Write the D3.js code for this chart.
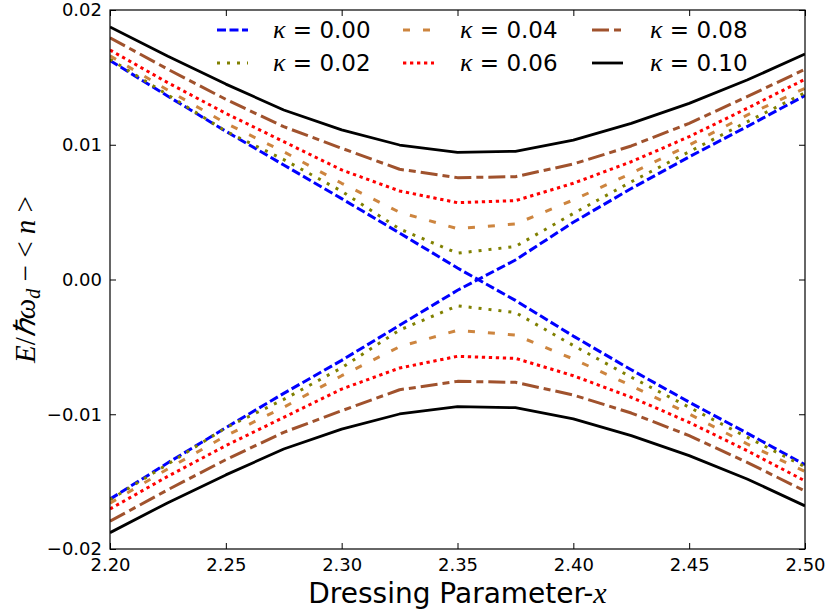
<!DOCTYPE html>
<html><head><meta charset="utf-8">
<script src="https://cdn.jsdelivr.net/npm/d3@7"></script>
<style>body{margin:0;background:#fff}</style>
</head><body>
<svg id="c" width="828" height="613"></svg>
<script>
// Data (values in units of 1e-3)
const xValues = [2.200,2.225,2.250,2.275,2.300,2.325,2.350,2.375,2.400,2.425,2.450,2.475,2.500];
const kappaLabels = ["0.00","0.02","0.04","0.06","0.08","0.10"];
const xTicks = [2.20,2.25,2.30,2.35,2.40,2.45,2.50];
const yTicks = [-0.02,-0.01,0.00,0.01,0.02];

const k000a = [16.25,13.60,11.00,8.50,6.00,3.45,0.85,-1.55,-4.20,-6.70,-9.10,-11.40,-13.75];
const k000b = [-16.30,-13.60,-11.00,-8.45,-6.00,-3.40,-0.80,1.45,4.25,6.75,9.10,11.35,13.65];
const k002u = [16.35,13.70,11.00,8.90,6.55,3.75,1.95,2.45,4.90,7.25,9.48,11.70,13.86];
const k002l = [-16.35,-13.70,-11.00,-8.90,-6.55,-3.75,-1.95,-2.45,-4.90,-7.25,-9.48,-11.70,-13.90];
const k004u = [16.60,14.05,11.60,9.48,7.14,4.99,3.77,4.12,5.90,7.88,9.98,12.20,14.19];
const k004l = [-16.60,-14.05,-11.60,-9.48,-7.14,-4.99,-3.77,-4.12,-5.90,-7.88,-9.98,-12.20,-14.25];
const k006u = [17.03,14.60,12.33,10.23,8.13,6.57,5.70,5.85,7.14,8.74,10.60,12.70,14.86];
const k006l = [-17.03,-14.60,-12.33,-10.23,-8.13,-6.57,-5.70,-5.85,-7.14,-8.74,-10.60,-12.70,-14.95];
const k008u = [17.94,15.60,13.37,11.34,9.74,8.18,7.56,7.63,8.57,9.91,11.59,13.57,15.60];
const k008l = [-17.94,-15.60,-13.37,-11.34,-9.74,-8.18,-7.56,-7.63,-8.57,-9.91,-11.59,-13.57,-15.70];
const k010u = [18.74,16.56,14.50,12.58,11.10,9.98,9.44,9.51,10.35,11.59,13.07,14.80,16.73];
const k010l = [-18.79,-16.56,-14.50,-12.58,-11.10,-9.98,-9.44,-9.51,-10.35,-11.59,-13.07,-14.80,-16.80];

const colors = ["#0000ff","#808000","#cd853f","#ff0000","#a0522d","#000000"];
const dashes = ["9,3.5","3,7","7,13","3.3,3.7","17,5,7,5",null];
const widths = [3,3,3,3,3,2.8];
const seriesByKappa = [[k000a,k000b],[k002u,k002l],[k004u,k004l],[k006u,k006l],[k008u,k008l],[k010u,k010l]];

const svg = d3.select("#c");
const L=110, R=805, T=10, B=549;
const x = d3.scaleLinear().domain([2.2,2.5]).range([L,R]);
const y = d3.scaleLinear().domain([-0.02,0.02]).range([B,T]);

svg.append("defs").append("clipPath").attr("id","clip")
  .append("rect").attr("x",L).attr("y",T).attr("width",R-L).attr("height",B-T);

const line = d3.line().x((d,i)=>x(xValues[i])).y(d=>y(d/1000));
const g = svg.append("g").attr("clip-path","url(#clip)");
seriesByKappa.forEach((pair,k)=>{
  pair.forEach(arr=>{
    g.append("path").attr("d",line(arr)).attr("fill","none")
      .attr("stroke",colors[k]).attr("stroke-width",widths[k])
      .attr("stroke-dasharray",dashes[k]).attr("stroke-linejoin","round");
  });
});

// axes
const font = "DejaVu Sans, sans-serif";
const ax = svg.append("g").attr("transform",`translate(0,${B})`)
  .call(d3.axisBottom(x).tickValues(xTicks).tickFormat(d3.format(".2f")).tickSize(-6).tickPadding(9));
const at = svg.append("g").attr("transform",`translate(0,${T})`)
  .call(d3.axisTop(x).tickValues(xTicks).tickFormat("").tickSize(-6));
const ay = svg.append("g").attr("transform",`translate(${L},0)`)
  .call(d3.axisLeft(y).tickValues(yTicks).tickFormat(d3.format(".2f")).tickSize(-6).tickPadding(8));
const ar = svg.append("g").attr("transform",`translate(${R},0)`)
  .call(d3.axisRight(y).tickValues(yTicks).tickFormat("").tickSize(-6));
[ax,at,ay,ar].forEach(a=>{
  a.select(".domain").remove();
  a.selectAll("line").attr("stroke","#000").attr("stroke-width",1);
  a.selectAll("text").attr("font-family",font).attr("font-size",18).attr("fill","#000");
});
svg.append("rect").attr("x",L).attr("y",T).attr("width",R-L).attr("height",B-T)
  .attr("fill","none").attr("stroke","#000").attr("stroke-width",1.2);

// axis labels
const xl = svg.append("text").attr("x",(L+R)/2).attr("y",603).attr("text-anchor","middle")
  .attr("font-family",font).attr("font-size",28).attr("fill","#000");
xl.append("tspan").text("Dressing Parameter-");
xl.append("tspan").attr("font-family","Liberation Serif, serif").attr("font-style","italic").attr("font-size",30).text("x");

const yl = svg.append("text").attr("transform",`translate(35,${(T+B)/2}) rotate(-90)`)
  .attr("text-anchor","middle").attr("font-family","Liberation Serif, serif").attr("font-size",29).attr("fill","#000");
yl.append("tspan").attr("font-style","italic").text("E");
yl.append("tspan").text("/");
yl.append("tspan").attr("font-style","italic").text("ℏω");
yl.append("tspan").attr("font-style","italic").attr("font-size",20).attr("dy",5).text("d");
yl.append("tspan").attr("dy",-5).text(" − < ");
yl.append("tspan").attr("font-style","italic").text("n");
yl.append("tspan").text(" >");

// legend
const legX = [217,403,592], legTx = [273,460,650], legY = [30,63];
kappaLabels.forEach((lab,k)=>{
  const col = Math.floor(k/2), row = k%2;
  const lx = legX[col], ly = legY[row];
  svg.append("line").attr("x1",lx).attr("x2",lx+31).attr("y1",ly).attr("y2",ly)
    .attr("stroke",colors[k]).attr("stroke-width",widths[k]).attr("stroke-dasharray",dashes[k]);
  const t = svg.append("text").attr("x",legTx[col]).attr("y",ly+8)
    .attr("font-family",font).attr("font-size",23).attr("fill","#000");
  t.append("tspan").attr("font-family","Liberation Serif, serif").attr("font-style","italic").attr("font-size",26).text("κ");
  t.append("tspan").text(" = " + lab);
});
</script>
</body></html>
